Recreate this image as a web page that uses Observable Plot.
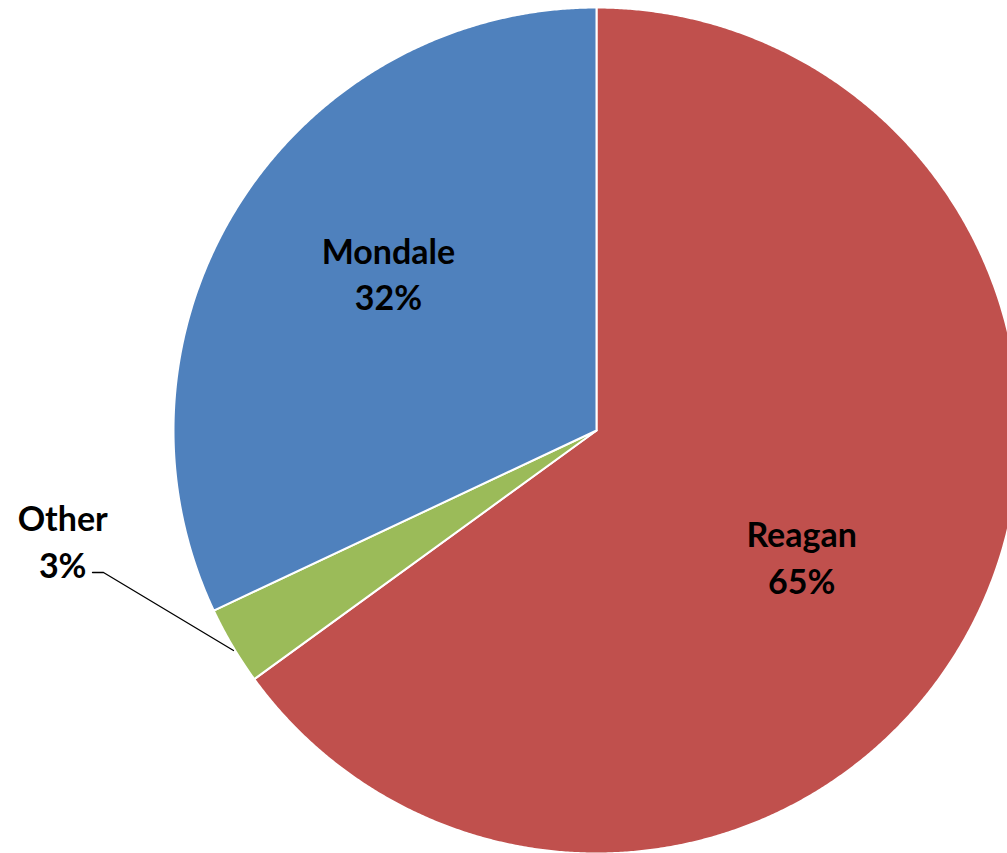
<!DOCTYPE html>
<html>
<head>
<meta charset="utf-8">
<script src="https://cdn.jsdelivr.net/npm/d3@7"></script>
<script src="https://cdn.jsdelivr.net/npm/@observablehq/plot@0.6"></script>
<style>
  html, body { margin: 0; padding: 0; background: #fff; }
  #chart svg { display: block; }
</style>
</head>
<body>
<div id="chart"></div>
<script>
// Data
const candidates = ["Reagan", "Other", "Mondale"];
const shares = [65, 3, 32];
const colors = ["#C0504D", "#9BBB59", "#4F81BD"];
// label positions in unit-circle coordinates (radius = 1)
const labelX = [0.485, -1.262, -0.492];
const labelY = [-0.296, -0.258, 0.374];

// Build slice polygons (clockwise from 12 o'clock) in unit coordinates
const total = d3.sum(shares);
const slices = [];
let start = 0;
candidates.forEach((name, i) => {
  const a0 = start / total * 2 * Math.PI;
  const a1 = (start + shares[i]) / total * 2 * Math.PI;
  slices.push({name, x: 0, y: 0});
  const n = Math.max(4, Math.ceil((a1 - a0) / 0.005));
  for (let k = 0; k <= n; k++) {
    const a = a0 + (a1 - a0) * k / n;
    slices.push({name, x: Math.sin(a), y: Math.cos(a)});
  }
  slices.push({name, x: 0, y: 0});
  start += shares[i];
});

const labels = candidates.map((name, i) => ({
  name, text: `${name}\n${shares[i]}%`, x: labelX[i], y: labelY[i]
}));

// leader line for "Other"
const leader = [
  {x: (92 - 596) / 423, y: (430 - 572) / 423},
  {x: (103 - 596) / 423, y: (430 - 572) / 423},
  {x: (233 - 596) / 423, y: (430 - 650) / 423}
];

const W = 1007, H = 853, cx = 596, cy = 430, R = 423;
const chart = Plot.plot({
  width: W,
  height: H,
  margin: 0,
  x: {domain: [-cx / R, (W - cx) / R], axis: null},
  y: {domain: [-(H - cy) / R, cy / R], axis: null},
  color: {domain: candidates, range: colors},
  marks: [
    Plot.line(slices, {x: "x", y: "y", z: "name", fill: "name", stroke: "white", strokeWidth: 2, curve: "linear"}),
    Plot.line(leader, {x: "x", y: "y", stroke: "black", strokeWidth: 1.3}),
    Plot.text(labels, {x: "x", y: "y", text: "text", fontSize: 34, fontWeight: "bold", fontFamily: "Lato", fill: "black", lineHeight: 1.36, lineAnchor: "middle"})
  ]
});
document.getElementById("chart").appendChild(chart);
</script>
</body>
</html>
